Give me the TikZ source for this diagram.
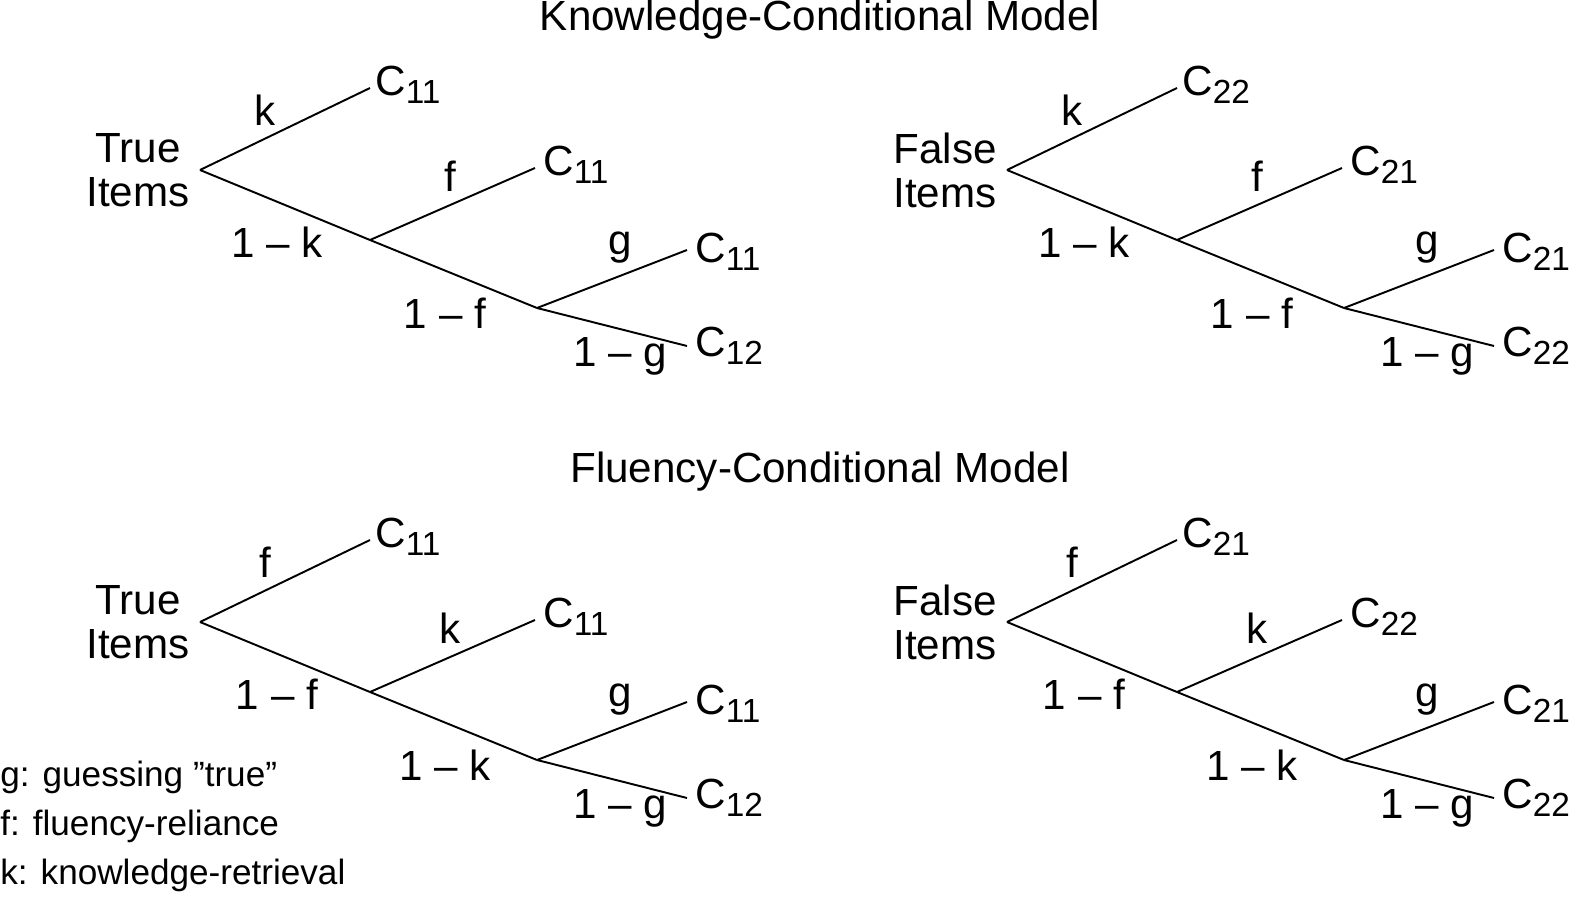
\documentclass[tikz,border=0pt]{standalone}
\usepackage{fontspec}
\setmainfont{Liberation Sans}
\newcommand\sub[1]{\raisebox{-0.35ex}{\fontsize{19}{19}\selectfont #1}}
\newcommand\mytree[9]{%
\begin{scope}[shift={#2}]
\node[lbl,align=center] (#1r) at (138,170) {#3\\[-3pt]Items};
\coordinate (#1a) at (200,170);
\coordinate (#1b) at (370,240);
\coordinate (#1c) at (537,308);
\node[lbl,anchor=west] (#1c1) at (375,85) {C\sub{#6}};
\node[lbl,anchor=west] (#1c2) at (543,165) {C\sub{#7}};
\node[lbl,anchor=west] (#1c3) at (695,252) {C\sub{#8}};
\node[lbl,anchor=west] (#1c4) at (695,346) {C\sub{#9}};
\draw[br] (#1a) -- (370,88) coordinate (#1e1);
\draw[br] (#1a) -- (#1b) -- (#1c);
\draw[br] (#1b) -- (535,168);
\draw[br] (#1c) -- (687,250);
\draw[br] (#1c) -- (687,346);
\node[lbl] at (265,110) {#4};
\node[lbl] at (277,242) {1 – #4};
\node[lbl] at (450,176) {#5};
\node[lbl] at (445,313) {1 – #5};
\node[lbl] at (620,248) {g};
\node[lbl] at (620,356) {1 – g};
\end{scope}}
\begin{document}
\begin{tikzpicture}[x=0.02cm,y=-0.02cm,
  lbl/.style={font=\fontsize{24}{28}\selectfont,inner sep=0pt},
  br/.style={line width=1.1pt},
  leg/.style={font=\fontsize{20}{24}\selectfont,anchor=west,inner sep=0pt}]
\useasboundingbox (0,0) rectangle (1573,899);
\node[lbl] (t1) at (820,20) {Knowledge-Conditional Model};
\node[lbl] (t2) at (820,472) {Fluency-Conditional Model};
\mytree{A}{(0,0)}{True}{k}{f}{11}{11}{11}{12}
\mytree{B}{(807,0)}{False}{k}{f}{22}{21}{21}{22}
\mytree{C}{(0,452)}{True}{f}{k}{11}{11}{11}{12}
\mytree{D}{(807,452)}{False}{f}{k}{21}{22}{21}{22}
\node[leg] (l1) at (0,777) {g: guessing "true"};
\node[leg] (l2) at (0,826) {f: fluency-reliance};
\node[leg] (l3) at (0,875) {k: knowledge-retrieval};
\end{tikzpicture}
\end{document}
